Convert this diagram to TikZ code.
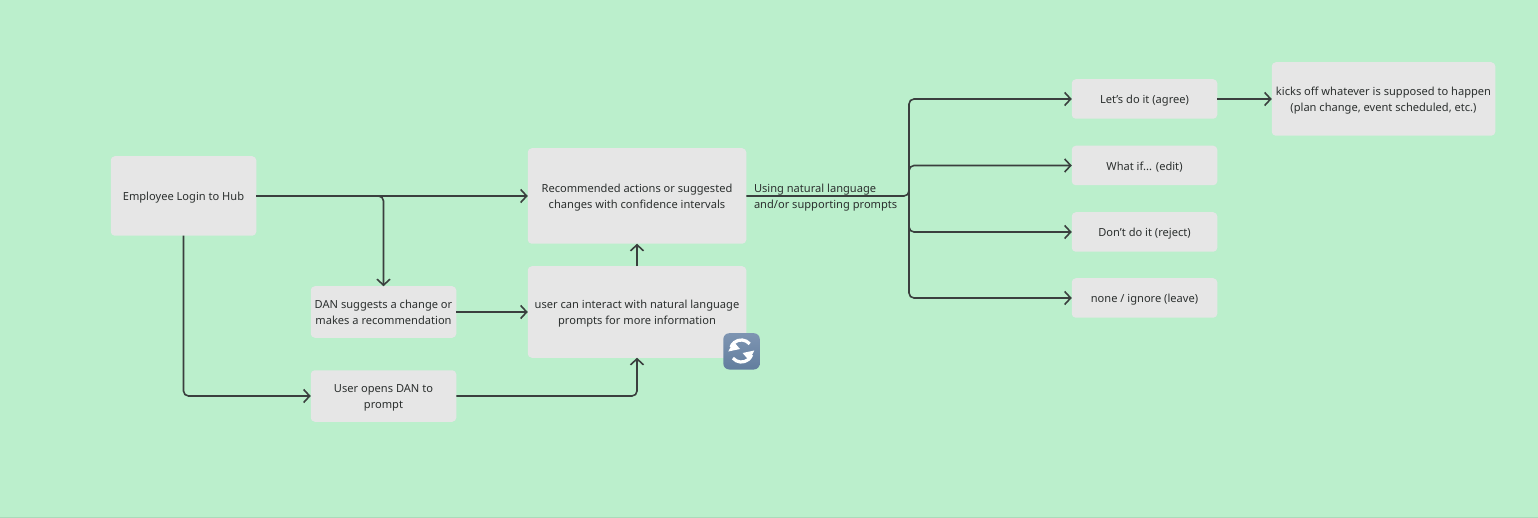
\documentclass[tikz,border=0pt]{standalone}
\usepackage{fontspec}
\setmainfont{Noto Sans}
\usetikzlibrary{arrows.meta,calc}
\definecolor{bgc}{HTML}{BBEFCC}
\definecolor{boxc}{HTML}{E6E6E6}
\definecolor{linec}{HTML}{3A3F3E}
\definecolor{txtc}{HTML}{2B2F2E}
\definecolor{emotop}{HTML}{7E95B2}
\definecolor{emobot}{HTML}{627D9E}
\tikzset{
 x=1pt,y=-1pt,
 boxn/.style={fill=boxc,rounded corners=4pt,inner sep=0pt,outer sep=0pt,text=txtc,font=\fontsize{11.1}{16}\selectfont},
 conn/.style={draw=linec,line width=1.6pt,rounded corners=5pt,-{Straight Barb[length=6pt,width=13pt,line width=1.6pt]}},
 lab/.style={inner sep=0pt,outer sep=0pt,align=left,text=txtc,font=\fontsize{11.1}{16}\selectfont},
}
\newcommand{\boxat}[6]{\node[boxn,minimum width=#4pt,minimum height=#5pt] (#1) at (#2,#3) {\raisebox{-4.4pt}[0pt][0pt]{\begin{tabular}{@{}c@{}}#6\end{tabular}}};}
\begin{document}
\begin{tikzpicture}
\useasboundingbox (0,0) rectangle (1538,518);
\fill[bgc] (0,0) rectangle (1538,518);
\fill[black!9!bgc] (0,516.5) rectangle (1538,518);
\boxat{emp}{183.5}{196}{145.5}{79.5}{Employee Login to Hub}
\boxat{rec}{637}{196}{218.5}{95.5}{Recommended actions or suggested\\changes with confidence intervals}
\boxat{int}{637}{312}{218.5}{91.5}{user can interact with natural language\\prompts for more information}
\boxat{dan}{383.5}{312}{145.5}{51.5}{DAN suggests a change or\\makes a recommendation}
\boxat{opn}{383.5}{396}{145.5}{51.5}{User opens DAN to\\prompt}
\boxat{lets}{1144.5}{99}{145.5}{39.5}{Let's do it (agree)}
\boxat{what}{1144.5}{165.5}{145.5}{39.5}{What if... (edit)}
\boxat{dont}{1144.5}{232}{145.5}{39.5}{Don't do it (reject)}
\boxat{none}{1144.5}{298}{145.5}{39.5}{none / ignore (leave)}
\boxat{kick}{1383.5}{99}{223.5}{73.5}{kicks off whatever is supposed to happen\\(plan change, event scheduled, etc.)}
\coordinate (hub) at (909,196);
\draw[conn] (emp.east) -- (rec.west);
\draw[conn] (emp.east) -| (dan.north);
\draw[conn] (emp.south) |- (opn.west);
\draw[conn] (dan.east) -- (int.west);
\draw[conn] (opn.east) -| (int.south);
\draw[conn] (int.north) -- (rec.south);
\draw[conn] (rec.east) -- (hub) |- (lets.west);
\draw[conn] (hub) |- (what.west);
\draw[conn] (hub) |- (dont.west);
\draw[conn] (hub) |- (none.west);
\draw[conn] (lets.east) -- (kick.west);
\node[lab,anchor=west] (usel) at (754,197.3) {Using natural language\\and/or supporting prompts};
% emoji
\shade[top color=emotop,bottom color=emobot,rounded corners=6pt] (723.3,333.2) rectangle (759.8,369.5);
\draw[white,line width=3.2pt] (749.7,343.9) arc[start angle=-40,end angle=-160,radius=11];
\fill[white] (728.3,351.5) -- (733.5,341.5) -- (740,349) -- cycle;
\draw[white,line width=3.2pt] (732.9,358.1) arc[start angle=140,end angle=20,radius=11];
\fill[white] (754.3,350.5) -- (749.1,360.5) -- (742.6,353) -- cycle;
\end{tikzpicture}
\end{document}
